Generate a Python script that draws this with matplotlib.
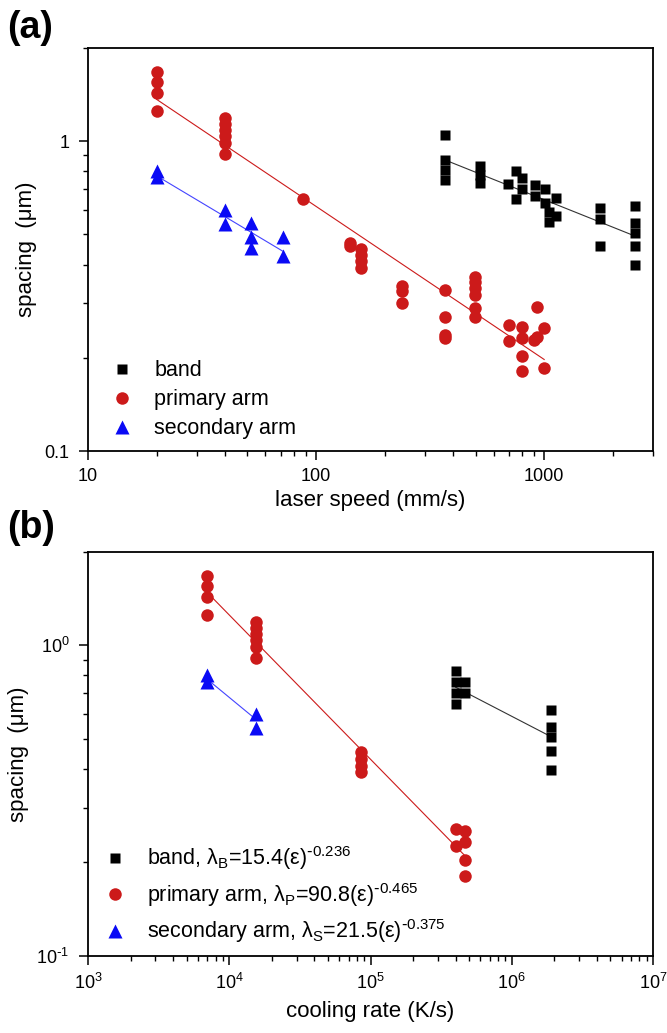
import numpy as np
import matplotlib
matplotlib.use('Agg')
import matplotlib.pyplot as plt
from matplotlib.ticker import LogLocator, NullFormatter, FixedLocator, FixedFormatter
from matplotlib.lines import Line2D

plt.rcParams['font.family'] = ['Liberation Sans', 'DejaVu Sans']
plt.rcParams['mathtext.default'] = 'regular'

RED = '#CC1A1A'
BLUE = '#0A0AF5'
BLACK = '#000000'

# ---------------- panel (a): laser speed (mm/s) ----------------
band_speed = [368, 368, 368, 368, 524, 524, 524, 697, 753, 753, 798, 798, 914, 914,
              1010, 1010, 1045, 1045, 1130, 1130, 1760, 1760, 1760,
              2500, 2500, 2500, 2500, 2500]
band_spacing_a = [1.05, 0.87, 0.81, 0.75, 0.83, 0.78, 0.735, 0.726, 0.80, 0.65, 0.76, 0.70,
                  0.72, 0.665, 0.70, 0.633, 0.59, 0.55, 0.657, 0.573, 0.61, 0.56, 0.46,
                  0.62, 0.545, 0.506, 0.458, 0.398]

primary_speed = [20, 20, 20, 20, 40, 40, 40, 40, 40, 40, 87.5, 141, 141, 157, 157, 157, 157,
                 239, 239, 239, 368, 368, 368, 368, 498, 498, 498, 498, 498, 498,
                 702, 702, 802, 802, 802, 802, 898, 929, 929, 1000, 1000]
primary_spacing_a = [1.67, 1.55, 1.43, 1.25, 1.19, 1.14, 1.09, 1.04, 0.99, 0.91, 0.65,
                     0.47, 0.46, 0.45, 0.43, 0.41, 0.39, 0.34, 0.328, 0.30,
                     0.33, 0.27, 0.237, 0.232, 0.365, 0.35, 0.335, 0.32, 0.29, 0.27,
                     0.256, 0.226, 0.252, 0.232, 0.203, 0.181, 0.228, 0.292, 0.234,
                     0.25, 0.186]

secondary_speed = [20, 20, 40, 40, 51.7, 51.7, 51.7, 71.5, 71.5]
secondary_spacing_a = [0.80, 0.765, 0.60, 0.54, 0.545, 0.49, 0.453, 0.49, 0.425]

# ---------------- panel (b): cooling rate (K/s) ----------------
band_rate = [4.0e5, 4.0e5, 4.0e5, 4.0e5, 4.7e5, 4.7e5, 1.9e6, 1.9e6, 1.9e6, 1.9e6, 1.9e6]
band_spacing_b = [0.83, 0.76, 0.70, 0.645, 0.76, 0.70, 0.62, 0.545, 0.506, 0.458, 0.398]

primary_rate = [7.0e3, 7.0e3, 7.0e3, 7.0e3, 1.55e4, 1.55e4, 1.55e4, 1.55e4, 1.55e4, 1.55e4,
                8.5e4, 8.5e4, 8.5e4, 8.5e4, 4.0e5, 4.0e5, 4.7e5, 4.7e5, 4.7e5, 4.7e5]
primary_spacing_b = [1.67, 1.55, 1.43, 1.25, 1.19, 1.14, 1.09, 1.04, 0.99, 0.91,
                     0.455, 0.43, 0.41, 0.39, 0.256, 0.226, 0.252, 0.232, 0.203, 0.181]

secondary_rate = [7.0e3, 7.0e3, 1.55e4, 1.55e4]
secondary_spacing_b = [0.80, 0.765, 0.60, 0.54]

fit_coef_b = [15.4, 90.8, 21.5]
fit_exp_b = [-0.236, -0.465, -0.375]

labels_a = ['band', 'primary arm', 'secondary arm']
labels_b = [r'band, λ$_B$=15.4(ε)$^{\text{-}0.236}$',
            r'primary arm, λ$_P$=90.8(ε)$^{\text{-}0.465}$',
            r'secondary arm, λ$_S$=21.5(ε)$^{\text{-}0.375}$']

MS = {'s': 7.2, 'o': 9.0, '^': 9.5}
styles = [('s', BLACK, '#333333'), ('o', RED, RED), ('^', BLUE, '#4444FF')]

W, H = 667, 1033
fig = plt.figure(figsize=(W / 100, H / 100), dpi=100)

def axes_px(l, r, t, b):
    return fig.add_axes([l / W, 1 - b / H, (r - l) / W, (b - t) / H])

axA = axes_px(88, 653, 48, 451)
axB = axes_px(88, 653, 552, 955.7)


def style_axes(ax):
    ax.set_xscale('log')
    ax.set_yscale('log')
    for s in ax.spines.values():
        s.set_linewidth(1.3)
    ax.tick_params(which='major', direction='out', length=6.5, width=1.1, labelsize=13)
    ax.tick_params(which='minor', direction='out', length=3.8, width=1.0)
    ax.tick_params(axis='y', which='major', pad=7)
    ax.tick_params(axis='x', which='major', pad=6)
    ax.xaxis.set_minor_locator(LogLocator(base=10, subs=range(2, 10)))
    ax.yaxis.set_minor_locator(LogLocator(base=10, subs=range(2, 10)))
    ax.xaxis.set_minor_formatter(NullFormatter())
    ax.yaxis.set_minor_formatter(NullFormatter())


def power_fit(x, y):
    p = np.polyfit(np.log10(x), np.log10(y), 1)
    lx = np.linspace(np.log10(min(x)), np.log10(max(x)), 50)
    return 10 ** lx, 10 ** np.polyval(p, lx)

# ---- panel (a)
style_axes(axA)
series_a = [(band_speed, band_spacing_a), (primary_speed, primary_spacing_a),
            (secondary_speed, secondary_spacing_a)]
for (x, y), (m, c, lc) in zip(series_a, styles):
    xs, ys = power_fit(x, y)
    axA.plot(xs, ys, color=lc, lw=0.8, zorder=2)
for (x, y), (m, c, lc) in zip(series_a, styles):
    axA.plot(x, y, ls='none', marker=m, ms=MS[m], color=c, mec='none', zorder=3)
axA.set_xlim(10, 3000)
axA.set_ylim(0.1, 2)
axA.xaxis.set_major_locator(FixedLocator([10, 100, 1000]))
axA.xaxis.set_major_formatter(FixedFormatter(['10', '100', '1000']))
axA.yaxis.set_major_locator(FixedLocator([0.1, 1]))
axA.yaxis.set_major_formatter(FixedFormatter(['0.1', '1']))
axA.set_xlabel('laser speed (mm/s)', fontsize=16, labelpad=3)
axA.set_ylabel('spacing  (μm)', fontsize=16, labelpad=5)

handles = [Line2D([], [], ls='none', marker=m, ms=MS[m], color=c, mec='none')
           for (m, c, lc) in styles]
axA.legend(handles, labels_a, loc='center left', bbox_to_anchor=(0.041, 0.127),
           frameon=False, fontsize=15.5, borderpad=0, borderaxespad=0,
           handlelength=1.0, handletextpad=1.0, labelspacing=0.38)

# ---- panel (b)
style_axes(axB)
series_b = [(band_rate, band_spacing_b), (primary_rate, primary_spacing_b),
            (secondary_rate, secondary_spacing_b)]
for (x, y), (m, c, lc), k, n in zip(series_b, styles, fit_coef_b, fit_exp_b):
    xs = np.logspace(np.log10(min(x)), np.log10(max(x)), 50)
    axB.plot(xs, k * xs ** n, color=lc, lw=0.8, zorder=2)
for (x, y), (m, c, lc) in zip(series_b, styles):
    axB.plot(x, y, ls='none', marker=m, ms=MS[m], color=c, mec='none', zorder=3)
axB.set_xlim(1e3, 1e7)
axB.set_ylim(0.1, 2)
axB.xaxis.set_major_locator(LogLocator(base=10, numticks=10))
axB.yaxis.set_major_locator(FixedLocator([0.1, 1]))
axB.yaxis.set_major_formatter(FixedFormatter([r'$10^{\text{-}1}$', r'$10^{0}$']))
axB.set_xlabel('cooling rate (K/s)', fontsize=16, labelpad=6)
axB.set_ylabel('spacing  (μm)', fontsize=16, labelpad=5)
axB.legend(handles, labels_b, loc='center left', bbox_to_anchor=(0.029, 0.151),
           frameon=False, fontsize=15.5, borderpad=0, borderaxespad=0,
           handlelength=1.0, handletextpad=1.0, labelspacing=0.4)

fig.text(7 / W, 1 - 27.5 / H, '(a)', fontsize=27, fontweight='bold', ha='left', va='center')
fig.text(7 / W, 1 - 527.5 / H, '(b)', fontsize=27, fontweight='bold', ha='left', va='center')

fig.savefig('out.png', dpi=100)
